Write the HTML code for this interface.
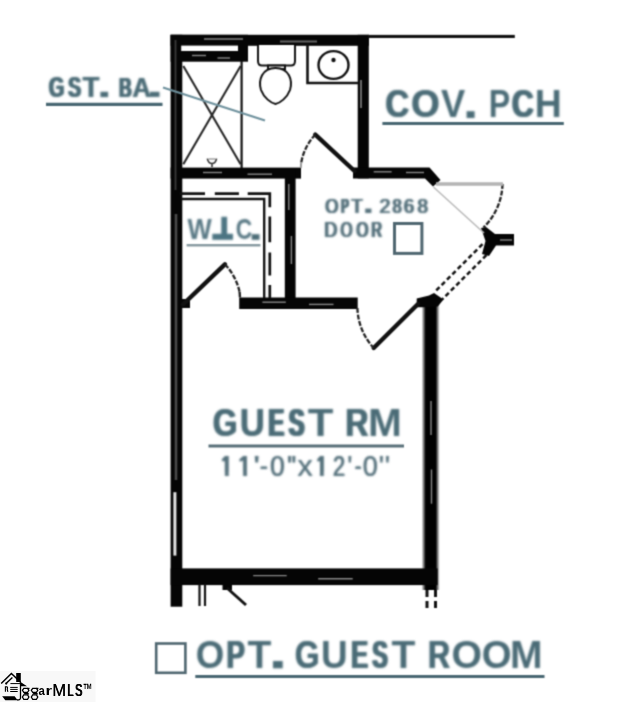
<!DOCTYPE html>
<html><head><meta charset="utf-8"><style>
html,body{margin:0;padding:0;background:#fff;width:640px;height:702px;overflow:hidden}
svg{position:absolute;left:0;top:0;display:block}
text{font-family:"Liberation Sans",sans-serif}
</style></head><body>
<svg width="640" height="702" viewBox="0 0 640 702">
<defs><filter id="bl" x="0" y="0" width="640" height="702" filterUnits="userSpaceOnUse" color-interpolation-filters="sRGB"><feConvolveMatrix order="3" kernelMatrix="1 3 1 3 9 3 1 3 1" divisor="25" edgeMode="duplicate"/></filter><filter id="id0" x="0" y="0" width="640" height="702" filterUnits="userSpaceOnUse"><feOffset dx="0" dy="0"/></filter><filter id="bt" x="0" y="0" width="640" height="702" filterUnits="userSpaceOnUse" color-interpolation-filters="sRGB"><feConvolveMatrix order="3" kernelMatrix="1 3 1 3 9 3 1 3 1" divisor="25" edgeMode="duplicate"/><feConvolveMatrix order="3" kernelMatrix="1 3 1 3 9 3 1 3 1" divisor="25" edgeMode="duplicate"/></filter><linearGradient id="gw" gradientUnits="userSpaceOnUse" x1="421.6" y1="0" x2="440.1" y2="0"><stop offset="0.0000" stop-color="#fff"/><stop offset="0.0541" stop-color="#bbb"/><stop offset="0.1081" stop-color="#808080"/><stop offset="0.1622" stop-color="#404040"/><stop offset="0.2162" stop-color="#080808"/><stop offset="0.2486" stop-color="#000"/><stop offset="0.7514" stop-color="#000"/><stop offset="0.8054" stop-color="#303030"/><stop offset="0.8595" stop-color="#707070"/><stop offset="0.9135" stop-color="#b0b0b0"/><stop offset="0.9676" stop-color="#f0f0f0"/><stop offset="1.0000" stop-color="#fff"/></linearGradient><clipPath id="c1" clipPathUnits="userSpaceOnUse"><rect x="-5" y="-75" width="50" height="64"/><rect x="25.15" y="-11.5" width="8.84" height="13.5"/></clipPath></defs>
<rect width="640" height="702" fill="#fff"/>
<g filter="url(#bl)">

<!-- ============ WALLS ============ -->
<g fill="#050505">
  <rect x="170.6" y="34.8" width="11.7" height="571.9"/>            <!-- left outer wall -->
  <rect x="170.6" y="34.8" width="198.4" height="11"/>              <!-- top wall -->
  <rect x="170.6" y="34.8" width="77.4" height="26.9"/>             <!-- shower header -->
  <rect x="357.7" y="34.8" width="11.1" height="143.6"/>          <!-- bathroom right wall -->
  <rect x="170.6" y="167.6" width="130.4" height="11"/>             <!-- bath bottom / wc top -->
  <path d="M353 167.6 H429.5 L440.5 180 L433 186.5 L425 178.6 H353 Z"/> <!-- bath bottom right -->
  <rect x="284.8" y="168" width="10.8" height="140"/>             <!-- wc right wall -->
  <rect x="239.2" y="297.5" width="118.5" height="11.5"/>         <!-- hall bottom wall -->
  <path d="M180 299 H190 V308 H180 Z"/>                          <!-- wc bottom-left stub -->
  <rect x="421.6" y="300" width="18.5" height="290" fill="url(#gw)"/>             <!-- guest room right wall -->
  <path d="M416.7 298.4 L429 295.5 L434 293 L443.5 299.5 L437.8 306.5 L425 307.2 H416.7 Z"/>
  <rect x="170.6" y="568.4" width="267" height="16.7"/>         <!-- guest room bottom wall -->
  <rect x="222.5" y="584" width="9.5" height="6"/>
  <path d="M481 228 L486 227 L495 234 H514 V245.5 H496 L489 256 L482 254 L485.5 241 Z"/>
</g>
<!-- gray centre lines inside walls -->
<g stroke="#8a8a8a" stroke-width="1.4" fill="none">
  <line x1="204" y1="39" x2="243" y2="39"/>
  <line x1="280" y1="41.5" x2="317" y2="41.5" stroke="#666" stroke-width="1.8"/>
  <line x1="192" y1="55.5" x2="206" y2="55.5"/>
  <line x1="217.5" y1="58" x2="230" y2="58"/>
  <line x1="203" y1="172.5" x2="222" y2="172.5"/>
  <line x1="247.5" y1="174.2" x2="272" y2="174.2"/>
  <line x1="288.8" y1="184" x2="288.8" y2="210"/>
  <line x1="291.4" y1="236" x2="291.4" y2="264"/>
  <line x1="262.4" y1="302.2" x2="285.8" y2="302.2"/>
  <line x1="309" y1="304.4" x2="333.5" y2="304.4"/>
  <line x1="373.7" y1="171.8" x2="391.6" y2="171.8"/>
  <line x1="406" y1="172.5" x2="424" y2="172.5"/>
  <line x1="361" y1="80" x2="361" y2="108" stroke="#777" stroke-width="1.8"/>
  <line x1="431" y1="401" x2="431" y2="435"/>
  <line x1="431.5" y1="469.5" x2="431.5" y2="503.7"/>
  <line x1="253.2" y1="575.6" x2="286.7" y2="575.6"/>
  <line x1="318.2" y1="578.7" x2="352.7" y2="578.7"/>
  <line x1="500" y1="240" x2="512" y2="240"/>
  <line x1="175.5" y1="40" x2="175.5" y2="190" stroke="#3a3a3a" stroke-width="1.8"/>
  <line x1="176" y1="214" x2="176" y2="480" stroke="#4a4a4a" stroke-width="2.6"/>
</g>
<rect x="173.4" y="492.2" width="3" height="63.4" fill="#e4e4e4"/>
<!-- top thin line -->
<rect x="368" y="34.9" width="146.8" height="3.1" fill="#111"/>
<!-- white strip in shower header -->
<rect x="181.2" y="45.6" width="56.8" height="5.4" fill="#fff"/>

<!-- thin lines -->
<g stroke="#111" fill="none">
  <line x1="241.6" y1="61" x2="241.6" y2="168" stroke-width="2.2"/>   <!-- shower right wall -->
  <line x1="183.3" y1="66" x2="240.6" y2="164.3" stroke-width="2.1" stroke="#262626"/>
  <line x1="240.6" y1="66" x2="183.3" y2="164.3" stroke-width="2.1" stroke="#262626"/>
  <path d="M179.8 193.6 H205 M214.8 193.6 H238.9 M247.7 193.6 H269.8 V207.2 M269.8 216.6 V242.3 M269.8 252.5 V275.6 M269.8 285 V298" stroke-width="2.7"/>
  <path d="M181 199 H264.2 V298" stroke-width="2.4"/>
  <line x1="199.5" y1="584" x2="199.5" y2="606" stroke-width="2.2"/>
  <line x1="205" y1="584" x2="205" y2="606" stroke-width="2.2"/>
  <line x1="227" y1="588" x2="246" y2="605" stroke-width="3"/>
  <line x1="427" y1="590" x2="427" y2="608" stroke-width="3" stroke-dasharray="7 4"/>
  <line x1="435.5" y1="590" x2="435.5" y2="608" stroke-width="3" stroke-dasharray="7 4"/>
</g>

<!-- doors -->
<g stroke="#111" fill="none" stroke-width="4.4" stroke-linecap="round">
  <line x1="354.5" y1="171" x2="315.3" y2="134.6"/>
  <line x1="183" y1="304.5" x2="224.9" y2="264.3"/>
  <line x1="373.7" y1="348" x2="418" y2="304"/>
</g>
<g stroke="#222" fill="none" stroke-width="2.3" stroke-dasharray="5 1.6">
  <path d="M315.3 134.6 A53.5 53.5 0 0 0 301.2 163"/>
  <path d="M224.9 264.3 A58 58 0 0 1 239.6 292"/>
  <path d="M357.4 308 A61.5 61.5 0 0 0 373.7 348"/>
  <path d="M502.5 184 A62.5 62.5 0 0 1 483.5 227.5"/>
</g>
<g stroke="#999" stroke-width="2" fill="none">
  <line x1="301.2" y1="162" x2="300.8" y2="168"/>
  <line x1="239.6" y1="292" x2="240" y2="297.5" stroke="#222" stroke-width="2.4"/>
</g>
<g stroke="#111" fill="none" stroke-width="2.5" stroke-dasharray="4.6 3">
  <line x1="482.5" y1="244.2" x2="434.8" y2="291.9"/>
  <line x1="486.4" y1="255.2" x2="441.9" y2="299.7"/>
</g>
<!-- exterior door gray leaf -->
<line x1="436" y1="184" x2="503" y2="184" stroke="#b4b4b4" stroke-width="3.5"/>
<line x1="433.4" y1="187" x2="484" y2="233" stroke="#bbb" stroke-width="1.6"/>

<!-- toilet & sink -->
<g stroke="#111" fill="#fff" stroke-width="2">
  <path d="M258 45 V61 Q258 65.5 262 65.5 H291 Q295 65.5 295 61 V45"/>
  <rect x="268" y="65.5" width="17" height="3.5"/>
  <path d="M275.5 68 C262 68 258 80 261 90 C264 98 271 103 275.5 104 C280 103 287 98 290 90 C293 80 289 68 275.5 68 Z"/>
  <path d="M307.5 44 V83 H359" stroke-width="2.6" fill="none"/>
  <ellipse cx="333.5" cy="65" rx="15" ry="13.9" stroke-width="2.4"/>
</g>
<circle cx="333.5" cy="60" r="2.2" fill="#111"/>
<path d="M207.3 158.6 Q208.5 163.5 212 163.5 Q215.5 163.5 216.6 158.6 M212 163.5 V167" fill="none" stroke="#333" stroke-width="1.6"/><path d="M208.5 159 H215.5" stroke="#888" stroke-width="1.2"/>

<!-- ============ LABELS ============ -->
<g filter="url(#bt)">
<text transform="matrix(0.1978 0 0 0.2994 47.89 97.20)" font-size="100" font-weight="bold" fill="#4a6b76">G</text>
<text transform="matrix(0.1978 0 0 0.2994 49.64 97.20)" font-size="100" font-weight="bold" fill="#4a6b76">G</text>
<text transform="matrix(0.1934 0 0 0.2994 67.24 97.20)" font-size="100" font-weight="bold" fill="#4a6b76">S</text>
<text transform="matrix(0.1934 0 0 0.2994 69.06 97.20)" font-size="100" font-weight="bold" fill="#4a6b76">S</text>
<text transform="matrix(0.2743 0 0 0.2994 82.29 97.20)" font-size="100" font-weight="bold" fill="#4a6b76">T</text>
<text transform="matrix(0.2743 0 0 0.2994 82.94 97.20)" font-size="100" font-weight="bold" fill="#4a6b76">T</text>
<text transform="matrix(0.1739 0 0 0.2805 118.14 97.00)" font-size="100" font-weight="bold" fill="#4a6b76">B</text>
<text transform="matrix(0.1739 0 0 0.2805 119.08 97.00)" font-size="100" font-weight="bold" fill="#4a6b76">B</text>
<text transform="matrix(0.1739 0 0 0.2805 120.03 97.00)" font-size="100" font-weight="bold" fill="#4a6b76">B</text>
<text transform="matrix(0.2562 0 0 0.2805 131.96 97.00)" font-size="100" font-weight="bold" fill="#4a6b76">A</text>
<text transform="matrix(0.2562 0 0 0.2805 132.67 97.00)" font-size="100" font-weight="bold" fill="#4a6b76">A</text>
<rect x="100.4" y="91.8" width="7.70" height="5.30" fill="#4a6b76"/>
<rect x="150" y="91.8" width="9.50" height="5.10" fill="#4a6b76"/>
<text transform="matrix(0.3296 0 0 0.3968 384.65 116.80)" font-size="100" font-weight="bold" fill="#4a6b76">C</text>
<text transform="matrix(0.3296 0 0 0.3968 386.10 116.80)" font-size="100" font-weight="bold" fill="#4a6b76">C</text>
<text transform="matrix(0.3649 0 0 0.3968 410.70 116.80)" font-size="100" font-weight="bold" fill="#4a6b76">O</text>
<text transform="matrix(0.3649 0 0 0.3968 411.65 116.80)" font-size="100" font-weight="bold" fill="#4a6b76">O</text>
<text transform="matrix(0.3628 0 0 0.3968 441.05 116.80)" font-size="100" font-weight="bold" fill="#4a6b76">V</text>
<text transform="matrix(0.3216 0 0 0.3968 488.65 116.80)" font-size="100" font-weight="bold" fill="#4a6b76">P</text>
<text transform="matrix(0.3021 0 0 0.3968 510.96 116.80)" font-size="100" font-weight="bold" fill="#4a6b76">C</text>
<text transform="matrix(0.3021 0 0 0.3968 512.81 116.80)" font-size="100" font-weight="bold" fill="#4a6b76">C</text>
<text transform="matrix(0.3742 0 0 0.3968 534.70 116.80)" font-size="100" font-weight="bold" fill="#4a6b76">H</text>
<rect x="466.6" y="111.2" width="8.00" height="6.80" fill="#4a6b76"/>
<text transform="matrix(0.3146 0 0 0.3852 212.21 436.00)" font-size="100" font-weight="bold" fill="#4a6b76">G</text>
<text transform="matrix(0.3146 0 0 0.3852 213.48 436.00)" font-size="100" font-weight="bold" fill="#4a6b76">G</text>
<text transform="matrix(0.3435 0 0 0.3852 239.44 436.00)" font-size="100" font-weight="bold" fill="#4a6b76">U</text>
<text transform="matrix(0.3435 0 0 0.3852 240.29 436.00)" font-size="100" font-weight="bold" fill="#4a6b76">U</text>
<text transform="matrix(0.2326 0 0 0.3852 267.24 436.00)" font-size="100" font-weight="bold" fill="#4a6b76">E</text>
<text transform="matrix(0.2326 0 0 0.3852 268.47 436.00)" font-size="100" font-weight="bold" fill="#4a6b76">E</text>
<text transform="matrix(0.2326 0 0 0.3852 269.69 436.00)" font-size="100" font-weight="bold" fill="#4a6b76">E</text>
<text transform="matrix(0.2351 0 0 0.3852 287.62 436.00)" font-size="100" font-weight="bold" fill="#4a6b76">S</text>
<text transform="matrix(0.2351 0 0 0.3852 288.83 436.00)" font-size="100" font-weight="bold" fill="#4a6b76">S</text>
<text transform="matrix(0.2351 0 0 0.3852 290.04 436.00)" font-size="100" font-weight="bold" fill="#4a6b76">S</text>
<text transform="matrix(0.4194 0 0 0.3852 307.83 436.00)" font-size="100" font-weight="bold" fill="#4a6b76">T</text>
<text transform="matrix(0.3199 0 0 0.3852 344.86 436.00)" font-size="100" font-weight="bold" fill="#4a6b76">R</text>
<text transform="matrix(0.3199 0 0 0.3852 346.05 436.00)" font-size="100" font-weight="bold" fill="#4a6b76">R</text>
<text transform="matrix(0.4062 0 0 0.3852 368.08 436.00)" font-size="100" font-weight="bold" fill="#4a6b76">M</text>
<text transform="matrix(0.3670 0 0 0.3968 195.79 667.60)" font-size="100" font-weight="bold" fill="#4a6b76">O</text>
<text transform="matrix(0.2750 0 0 0.3968 225.86 667.60)" font-size="100" font-weight="bold" fill="#4a6b76">P</text>
<text transform="matrix(0.2750 0 0 0.3968 227.30 667.60)" font-size="100" font-weight="bold" fill="#4a6b76">P</text>
<text transform="matrix(0.3906 0 0 0.3968 247.56 667.60)" font-size="100" font-weight="bold" fill="#4a6b76">T</text>
<text transform="matrix(0.3165 0 0 0.3968 294.50 667.60)" font-size="100" font-weight="bold" fill="#4a6b76">G</text>
<text transform="matrix(0.3165 0 0 0.3968 295.34 667.60)" font-size="100" font-weight="bold" fill="#4a6b76">G</text>
<text transform="matrix(0.3693 0 0 0.3968 321.08 667.60)" font-size="100" font-weight="bold" fill="#4a6b76">U</text>
<text transform="matrix(0.2542 0 0 0.3968 350.30 667.60)" font-size="100" font-weight="bold" fill="#4a6b76">E</text>
<text transform="matrix(0.2542 0 0 0.3968 352.04 667.60)" font-size="100" font-weight="bold" fill="#4a6b76">E</text>
<text transform="matrix(0.2329 0 0 0.3968 371.33 667.60)" font-size="100" font-weight="bold" fill="#4a6b76">S</text>
<text transform="matrix(0.2329 0 0 0.3968 373.37 667.60)" font-size="100" font-weight="bold" fill="#4a6b76">S</text>
<text transform="matrix(0.3906 0 0 0.3968 391.56 667.60)" font-size="100" font-weight="bold" fill="#4a6b76">T</text>
<text transform="matrix(0.3057 0 0 0.3968 427.56 667.60)" font-size="100" font-weight="bold" fill="#4a6b76">R</text>
<text transform="matrix(0.3057 0 0 0.3968 428.55 667.60)" font-size="100" font-weight="bold" fill="#4a6b76">R</text>
<text transform="matrix(0.3929 0 0 0.3968 451.59 667.60)" font-size="100" font-weight="bold" fill="#4a6b76">O</text>
<text transform="matrix(0.3843 0 0 0.3968 481.72 667.60)" font-size="100" font-weight="bold" fill="#4a6b76">O</text>
<text transform="matrix(0.3904 0 0 0.3968 510.09 667.60)" font-size="100" font-weight="bold" fill="#4a6b76">M</text>
<rect x="273" y="661" width="9.70" height="7.30" fill="#4a6b76"/>
<text transform="matrix(0.2569 0 0 0.2863 187.47 238.50)" font-size="100" font-weight="bold" fill="#587884">W</text>
<text transform="matrix(0.2279 0 0 0.2863 235.67 238.50)" font-size="100" font-weight="bold" fill="#587884">C</text>
<rect x="221.3" y="216.8" width="5.80" height="21.20" fill="#4c7482"/>
<rect x="212.3" y="233.8" width="20.70" height="6.00" fill="#4c7482"/>
<rect x="251.7" y="234.2" width="7.80" height="5.60" fill="#4a6b76"/>
<text transform="matrix(0.1661 0 0 0.2079 324.61 212.50)" font-size="100" font-weight="normal" fill="#536f7a">O</text>
<text transform="matrix(0.1661 0 0 0.2079 325.49 212.50)" font-size="100" font-weight="normal" fill="#536f7a">O</text>
<text transform="matrix(0.1661 0 0 0.2079 326.37 212.50)" font-size="100" font-weight="normal" fill="#536f7a">O</text>
<text transform="matrix(0.1092 0 0 0.2079 340.30 212.50)" font-size="100" font-weight="normal" fill="#536f7a">P</text>
<text transform="matrix(0.1092 0 0 0.2079 340.88 212.50)" font-size="100" font-weight="normal" fill="#536f7a">P</text>
<text transform="matrix(0.1092 0 0 0.2079 341.45 212.50)" font-size="100" font-weight="normal" fill="#536f7a">P</text>
<text transform="matrix(0.1092 0 0 0.2079 342.02 212.50)" font-size="100" font-weight="normal" fill="#536f7a">P</text>
<text transform="matrix(0.1092 0 0 0.2079 342.59 212.50)" font-size="100" font-weight="normal" fill="#536f7a">P</text>
<text transform="matrix(0.1841 0 0 0.2079 350.59 212.50)" font-size="100" font-weight="normal" fill="#536f7a">T</text>
<text transform="matrix(0.1841 0 0 0.2079 351.38 212.50)" font-size="100" font-weight="normal" fill="#536f7a">T</text>
<text transform="matrix(0.1841 0 0 0.2079 352.18 212.50)" font-size="100" font-weight="normal" fill="#536f7a">T</text>
<text transform="matrix(0.1957 0 0 0.2079 378.72 212.50)" font-size="100" font-weight="normal" fill="#536f7a">2</text>
<text transform="matrix(0.1957 0 0 0.2079 379.46 212.50)" font-size="100" font-weight="normal" fill="#536f7a">2</text>
<text transform="matrix(0.1957 0 0 0.2079 380.20 212.50)" font-size="100" font-weight="normal" fill="#536f7a">2</text>
<text transform="matrix(0.1620 0 0 0.2079 391.70 212.50)" font-size="100" font-weight="normal" fill="#536f7a">8</text>
<text transform="matrix(0.1620 0 0 0.2079 392.59 212.50)" font-size="100" font-weight="normal" fill="#536f7a">8</text>
<text transform="matrix(0.1620 0 0 0.2079 393.49 212.50)" font-size="100" font-weight="normal" fill="#536f7a">8</text>
<text transform="matrix(0.1817 0 0 0.2079 403.08 212.50)" font-size="100" font-weight="normal" fill="#536f7a">6</text>
<text transform="matrix(0.1817 0 0 0.2079 403.88 212.50)" font-size="100" font-weight="normal" fill="#536f7a">6</text>
<text transform="matrix(0.1817 0 0 0.2079 404.69 212.50)" font-size="100" font-weight="normal" fill="#536f7a">6</text>
<text transform="matrix(0.1886 0 0 0.2079 416.78 212.50)" font-size="100" font-weight="normal" fill="#536f7a">8</text>
<text transform="matrix(0.1886 0 0 0.2079 417.56 212.50)" font-size="100" font-weight="normal" fill="#536f7a">8</text>
<text transform="matrix(0.1886 0 0 0.2079 418.33 212.50)" font-size="100" font-weight="normal" fill="#536f7a">8</text>
<rect x="365.2" y="208.6" width="6.20" height="4.40" fill="#536f7a"/>
<text transform="matrix(0.1782 0 0 0.2166 323.54 237.20)" font-size="100" font-weight="normal" fill="#536f7a">D</text>
<text transform="matrix(0.1782 0 0 0.2166 324.36 237.20)" font-size="100" font-weight="normal" fill="#536f7a">D</text>
<text transform="matrix(0.1782 0 0 0.2166 325.19 237.20)" font-size="100" font-weight="normal" fill="#536f7a">D</text>
<text transform="matrix(0.1509 0 0 0.2166 339.69 237.20)" font-size="100" font-weight="normal" fill="#536f7a">O</text>
<text transform="matrix(0.1509 0 0 0.2166 340.64 237.20)" font-size="100" font-weight="normal" fill="#536f7a">O</text>
<text transform="matrix(0.1509 0 0 0.2166 341.59 237.20)" font-size="100" font-weight="normal" fill="#536f7a">O</text>
<text transform="matrix(0.1509 0 0 0.2166 355.59 237.20)" font-size="100" font-weight="normal" fill="#536f7a">O</text>
<text transform="matrix(0.1509 0 0 0.2166 356.54 237.20)" font-size="100" font-weight="normal" fill="#536f7a">O</text>
<text transform="matrix(0.1509 0 0 0.2166 357.49 237.20)" font-size="100" font-weight="normal" fill="#536f7a">O</text>
<text transform="matrix(0.1437 0 0 0.2166 370.42 237.20)" font-size="100" font-weight="normal" fill="#536f7a">R</text>
<text transform="matrix(0.1437 0 0 0.2166 371.08 237.20)" font-size="100" font-weight="normal" fill="#536f7a">R</text>
<text transform="matrix(0.1437 0 0 0.2166 371.73 237.20)" font-size="100" font-weight="normal" fill="#536f7a">R</text>
<text transform="matrix(0.1437 0 0 0.2166 372.39 237.20)" font-size="100" font-weight="normal" fill="#536f7a">R</text>
<text transform="matrix(0.1922 0 0 0.2994 220.05 475.80)" font-size="100" font-weight="normal" fill="#536f7a" clip-path="url(#c1)">1</text>
<text transform="matrix(0.1922 0 0 0.2994 221.16 475.80)" font-size="100" font-weight="normal" fill="#536f7a" clip-path="url(#c1)">1</text>
<text transform="matrix(0.1922 0 0 0.2994 222.27 475.80)" font-size="100" font-weight="normal" fill="#536f7a" clip-path="url(#c1)">1</text>
<text transform="matrix(0.2320 0 0 0.2994 237.27 475.80)" font-size="100" font-weight="normal" fill="#536f7a" clip-path="url(#c1)">1</text>
<text transform="matrix(0.2320 0 0 0.2994 238.19 475.80)" font-size="100" font-weight="normal" fill="#536f7a" clip-path="url(#c1)">1</text>
<text transform="matrix(0.2320 0 0 0.2994 239.12 475.80)" font-size="100" font-weight="normal" fill="#536f7a" clip-path="url(#c1)">1</text>
<text transform="matrix(0.4118 0 0 0.2994 252.71 475.80)" font-size="100" font-weight="normal" fill="#536f7a">&#39;</text>
<text transform="matrix(0.2378 0 0 0.2994 259.44 475.80)" font-size="100" font-weight="normal" fill="#536f7a">-</text>
<text transform="matrix(0.2378 0 0 0.2994 260.34 475.80)" font-size="100" font-weight="normal" fill="#536f7a">-</text>
<text transform="matrix(0.2622 0 0 0.2994 269.78 475.80)" font-size="100" font-weight="normal" fill="#536f7a">0</text>
<text transform="matrix(0.2622 0 0 0.2994 270.44 475.80)" font-size="100" font-weight="normal" fill="#536f7a">0</text>
<text transform="matrix(0.2370 0 0 0.2994 286.99 475.80)" font-size="100" font-weight="normal" fill="#536f7a">&quot;</text>
<text transform="matrix(0.2370 0 0 0.2994 287.90 475.80)" font-size="100" font-weight="normal" fill="#536f7a">&quot;</text>
<text transform="matrix(0.3089 0 0 0.2994 297.15 475.80)" font-size="100" font-weight="normal" fill="#536f7a">x</text>
<text transform="matrix(0.3089 0 0 0.2994 297.39 475.80)" font-size="100" font-weight="normal" fill="#536f7a">x</text>
<text transform="matrix(0.1790 0 0 0.2994 315.38 475.80)" font-size="100" font-weight="normal" fill="#536f7a" clip-path="url(#c1)">1</text>
<text transform="matrix(0.1790 0 0 0.2994 316.16 475.80)" font-size="100" font-weight="normal" fill="#536f7a" clip-path="url(#c1)">1</text>
<text transform="matrix(0.1790 0 0 0.2994 316.94 475.80)" font-size="100" font-weight="normal" fill="#536f7a" clip-path="url(#c1)">1</text>
<text transform="matrix(0.1790 0 0 0.2994 317.72 475.80)" font-size="100" font-weight="normal" fill="#536f7a" clip-path="url(#c1)">1</text>
<text transform="matrix(0.2178 0 0 0.2994 332.40 475.80)" font-size="100" font-weight="normal" fill="#536f7a">2</text>
<text transform="matrix(0.2178 0 0 0.2994 333.48 475.80)" font-size="100" font-weight="normal" fill="#536f7a">2</text>
<text transform="matrix(0.3228 0 0 0.2994 346.86 475.80)" font-size="100" font-weight="normal" fill="#536f7a">&#39;</text>
<text transform="matrix(0.1718 0 0 0.2994 354.54 475.80)" font-size="100" font-weight="normal" fill="#536f7a">-</text>
<text transform="matrix(0.1718 0 0 0.2994 355.29 475.80)" font-size="100" font-weight="normal" fill="#536f7a">-</text>
<text transform="matrix(0.1718 0 0 0.2994 356.04 475.80)" font-size="100" font-weight="normal" fill="#536f7a">-</text>
<text transform="matrix(0.2700 0 0 0.2994 362.45 475.80)" font-size="100" font-weight="normal" fill="#536f7a">0</text>
<text transform="matrix(0.2700 0 0 0.2994 363.04 475.80)" font-size="100" font-weight="normal" fill="#536f7a">0</text>
<text transform="matrix(0.3333 0 0 0.2994 378.38 475.80)" font-size="100" font-weight="normal" fill="#536f7a">&quot;</text>
</g>
<g stroke="#486772" fill="none">
  <line x1="46" y1="104.4" x2="162.5" y2="104.4" stroke-width="3.2"/>
  <line x1="163" y1="87.5" x2="265" y2="120.5" stroke-width="2.1" stroke="#6d909c"/>
  <line x1="382.4" y1="123.4" x2="563.8" y2="123.4" stroke-width="3"/>
  <line x1="186.6" y1="245.2" x2="260.4" y2="245.2" stroke-width="2.6" stroke="#8a9ca2"/>
  <line x1="208.5" y1="446" x2="404" y2="446" stroke-width="2.8" stroke="#5a717a"/>
  <line x1="195.3" y1="676.5" x2="544.5" y2="676.5" stroke-width="3.2"/>
  <rect x="394.5" y="223.5" width="27.4" height="29.9" stroke-width="3" stroke="#4f6670"/>
  <rect x="156.2" y="643.5" width="29.2" height="29.3" stroke-width="2.6" stroke="#4f6670"/>
</g>

</g>
<!-- ============ LOGO ============ -->
<rect x="0" y="671" width="95.5" height="31" fill="#f8f8f8"/>
<g filter="url(#id0)">
  <path d="M1.2 683.5 L11.4 673.5 L20.6 682.3" fill="none" stroke="#000" stroke-width="1.5"/>
  <path d="M16.2 673.1 H20.8 V682 Z M16.2 673.1 H20.8 V682 H16.2 Z" fill="#000"/>
  <path d="M19.8 681.6 L27 686.3 H20.2 Z" fill="#000"/>
  <path d="M6 683.5 L12.4 677.6" stroke="#000" stroke-width="1.4"/>
  <circle cx="6.2" cy="683.6" r="1.1" fill="#000"/>
  <path d="M10.4 683.6 H20.4 M10.2 687.4 H17.7 M10.2 689.4 H17.7 M10.2 691.5 H17.7" stroke="#000" stroke-width="1"/>
  <path d="M5.4 691.8 V686.9 H7.2 Q8 687.5 7.2 689.2 L7.9 691.8" fill="none" stroke="#000" stroke-width="1.1"/>
  <path d="M20.5 683.5 V698 Q20.5 699.5 19 699.8 H17" fill="none" stroke="#000" stroke-width="1.3"/>
  <path d="M2.2 696.2 H14.6 L17.6 700.3 H5.3 Z" fill="#000"/>
  <g fill="none" stroke="#000" stroke-width="1.25">
    <path d="M23.8 688.4 H27.5 L28.9 690.3 L27.5 692.3 H23.8 L22.4 690.3 Z"/><path d="M23.8 694.8 H27.5 L28.9 697.1 L27.5 699.4 H23.8 L22.4 697.1 Z"/><path d="M25.9 692.3 L24.7 693.6 H28.1 V694.8"/><path d="M27.3 688.4 H29.5"/>
    <path d="M32.7 688.4 H36.4 L37.8 690.3 L36.4 692.3 H32.7 L31.3 690.3 Z"/><path d="M32.7 694.8 H36.4 L37.8 697.1 L36.4 699.4 H32.7 L31.3 697.1 Z"/><path d="M34.8 692.3 L33.6 693.6 H37.0 V694.8"/><path d="M36.2 688.4 H38.4"/>
  </g>
<text transform="matrix(0.1144 0 0 0.1211 38.56 695.40)" font-size="100" font-weight="bold" fill="#000">a</text>
<text transform="matrix(0.1688 0 0 0.1211 45.49 695.40)" font-size="100" font-weight="bold" fill="#000">r</text>
<text transform="matrix(0.1649 0 0 0.1657 52.25 695.50)" font-size="100" font-weight="normal" fill="#000">M</text>
<text transform="matrix(0.1649 0 0 0.1657 52.52 695.50)" font-size="100" font-weight="normal" fill="#000">M</text>
<text transform="matrix(0.1120 0 0 0.1657 66.98 695.50)" font-size="100" font-weight="normal" fill="#000">L</text>
<text transform="matrix(0.1120 0 0 0.1657 67.36 695.50)" font-size="100" font-weight="normal" fill="#000">L</text>
<text transform="matrix(0.1120 0 0 0.1657 67.74 695.50)" font-size="100" font-weight="normal" fill="#000">L</text>
<text transform="matrix(0.1056 0 0 0.1657 74.82 695.50)" font-size="100" font-weight="normal" fill="#000">S</text>
<text transform="matrix(0.1056 0 0 0.1657 75.23 695.50)" font-size="100" font-weight="normal" fill="#000">S</text>
<text transform="matrix(0.1056 0 0 0.1657 75.64 695.50)" font-size="100" font-weight="normal" fill="#000">S</text>
<text transform="matrix(0.0944 0 0 0.1661 82.92 695.43)" font-size="100" font-weight="bold" fill="#000">™</text>
</g>
</svg>
</body></html>
